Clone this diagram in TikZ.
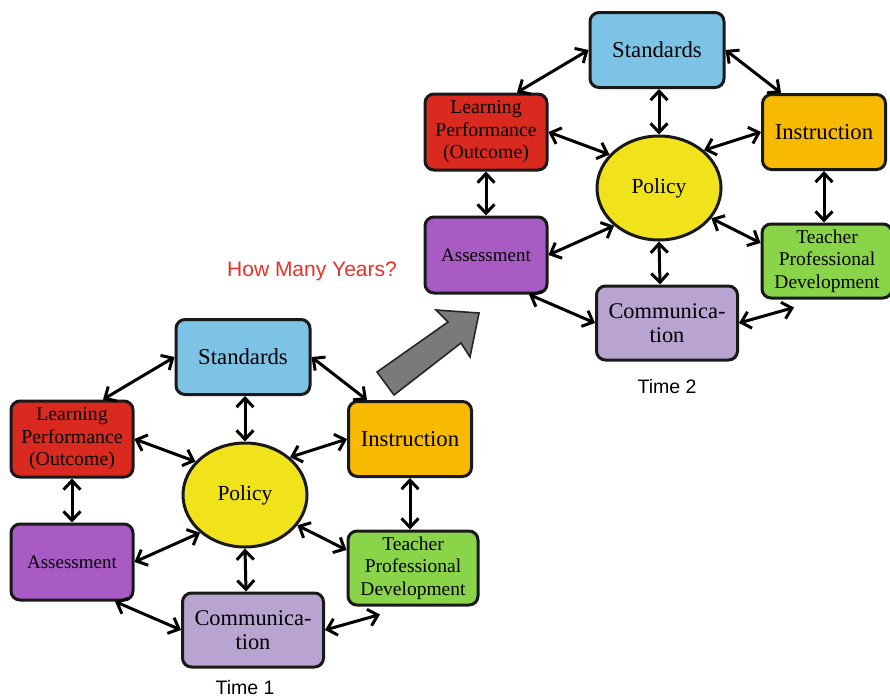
\documentclass[tikz,border=0pt]{standalone}
\usepackage{fontspec}
\setmainfont{Liberation Serif}
\newfontfamily\labelfont{Liberation Sans}
\usetikzlibrary{arrows.meta,shapes.geometric}

\definecolor{cStd}{HTML}{7DC3E5}
\definecolor{cLrn}{HTML}{DA2A1F}
\definecolor{cIns}{HTML}{F7BA00}
\definecolor{cPol}{HTML}{F0E31C}
\definecolor{cAss}{HTML}{A95BC4}
\definecolor{cTpd}{HTML}{89D448}
\definecolor{cCom}{HTML}{B9A3D1}
\definecolor{cRed}{HTML}{E5322B}
\definecolor{cGray}{HTML}{7A7A7A}

\tikzset{
  box/.style={draw=black!90, line width=3pt, rounded corners=9pt, align=center,
              inner sep=0pt, text=black},
  blob/.style={draw=black!90, line width=3pt, ellipse, inner sep=0pt,
               minimum width=124pt, minimum height=104pt, fill=cPol},
  link/.style={line width=3pt,
               {Straight Barb[length=9pt,width=17pt]}-{Straight Barb[length=9pt,width=17pt]}},
  timelabel/.style={font=\labelfont\fontsize{19.5}{22}\selectfont, anchor=base},
}

% one complete network; #1 is the name prefix
\newcommand{\network}[1]{%
  \node[box, fill=cStd, minimum width=134pt, minimum height=75pt,
        font=\fontsize{22.7}{24}\selectfont] (#1std) at (243,357) {Standards};
  \node[box, fill=cLrn, minimum width=122pt, minimum height=76pt,
        font=\fontsize{19.8}{22.5}\selectfont] (#1lrn) at (72,439) {Learning\\Performance\\(Outcome)};
  \node[box, fill=cIns, minimum width=123pt, minimum height=75pt,
        font=\fontsize{22.7}{24}\selectfont] (#1ins) at (410,439) {Instruction};
  \node[blob, font=\fontsize{21.5}{24}\selectfont] (#1pol) at (245,495) {Policy};
  \node[box, fill=cAss, minimum width=122pt, minimum height=76pt,
        font=\fontsize{19}{22}\selectfont] (#1ass) at (72,562) {Assessment};
  \node[box, fill=cTpd, minimum width=130pt, minimum height=74pt,
        font=\fontsize{19.5}{22.5}\selectfont] (#1tpd) at (413,568) {Teacher\\Professional\\Development};
  \node[box, fill=cCom, minimum width=141pt, minimum height=74pt,
        font=\fontsize{22.4}{24.5}\selectfont] (#1com) at (253,630) {Communica-\\tion};
  % connectors
  \draw[link] ([xshift=31pt]#1lrn.north) -- (#1std.west);
  \draw[link] (#1std.east) -- ([xshift=-43pt]#1ins.north);
  \draw[link] ([xshift=2pt]#1std.south) -- (#1pol.north);
  \draw[link] (#1lrn.east) -- (#1pol.146);
  \draw[link] (#1ins.west) -- (#1pol.40);
  \draw[link] (#1lrn.south) -- (#1ass.north);
  \draw[link] (#1ins.south) -- ([xshift=-3pt]#1tpd.north);
  \draw[link] (#1ass.east) -- (#1pol.220);
  \draw[link] (#1pol.330) -- ([yshift=18pt]#1tpd.west);
  \draw[link] (#1pol.south) -- ([xshift=-7pt]#1com.north);
  \draw[link] ([xshift=43pt]#1ass.south) -- (#1com.west);
  \coordinate (#1open) at ([xshift=-33pt,yshift=-8pt]#1tpd.south);
  \draw[link] (#1com.east) -- (#1open);
}

\begin{document}
\begin{tikzpicture}[x=1pt, y=-1pt]
  \useasboundingbox[fill=white] (0,0) rectangle (890,699);

  % first network
  \begin{scope}
    \network{a}
  \end{scope}
  \node[timelabel] (t1) at (245,694) {Time 1};

  % second network, same layout moved up and right
  \begin{scope}[shift={(414,-307)}]
    \network{b}
  \end{scope}
  \node[timelabel] (t2) at (667,393) {Time 2};

  % transition arrow and question
  \draw[fill=cGray, draw=black!85, line width=1.6pt, line join=miter]
    (377,372) -- (448,322) -- (436,310) -- (479,313) -- (470,357) -- (461,343) -- (394,395) -- cycle;
  \node[font=\labelfont\fontsize{21}{24}\selectfont, text=cRed, anchor=base] (q) at (312,276) {How Many Years?};
\end{tikzpicture}
\end{document}
